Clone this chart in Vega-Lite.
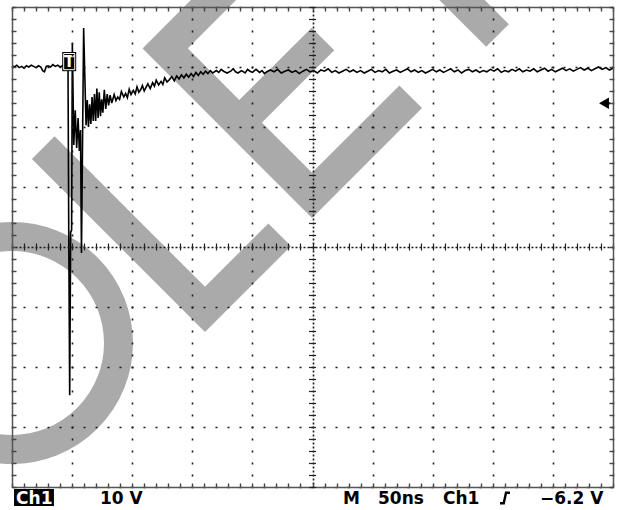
{
  "$schema": "https://vega.github.io/schema/vega-lite/v6.json",
  "width": 601,
  "height": 480,
  "autosize": {"type": "none"},
  "padding": {"left": 12, "top": 7, "right": 4, "bottom": 23},
  "background": "white",
  "config": {"view": {"stroke": null}, "text": {"font": "DejaVu Sans"}},
  "datasets": {
    "watermark": [
      {"stroke": "L", "ord": 1, "t": 26.0, "v": 16.56},
      {"stroke": "L", "ord": 2, "t": 160.57, "v": -10.4},
      {"stroke": "L", "ord": 3, "t": 222.7, "v": 2.05},
      {"stroke": "E", "ord": 1, "t": 209.4, "v": 49.54},
      {"stroke": "E", "ord": 2, "t": 127.4, "v": 33.1},
      {"stroke": "E", "ord": 3, "t": 249.6, "v": 8.61},
      {"stroke": "E", "ord": 4, "t": 331.7, "v": 25.05},
      {"stroke": "Em", "ord": 1, "t": 189.1, "v": 20.72},
      {"stroke": "Em", "ord": 2, "t": 258.7, "v": 34.67},
      {"stroke": "T", "ord": 1, "t": 261.6, "v": 63.75},
      {"stroke": "T", "ord": 2, "t": 403.9, "v": 35.25}
    ],
    "ring": [{"t": 0, "v": -16}],
    "trace": [
      {"t": 0, "v": 30.2}, {"t": 2, "v": 30.0}, {"t": 4, "v": 30.3}, {"t": 6, "v": 29.9},
      {"t": 8, "v": 30.1}, {"t": 10, "v": 29.8}, {"t": 12, "v": 30.2}, {"t": 14, "v": 30.0},
      {"t": 16, "v": 30.3}, {"t": 18, "v": 30.1}, {"t": 20, "v": 29.9}, {"t": 22, "v": 30.2},
      {"t": 24, "v": 30.0}, {"t": 25.5, "v": 29.4}, {"t": 27, "v": 29.2}, {"t": 28.5, "v": 30.1},
      {"t": 30, "v": 30.2}, {"t": 32, "v": 30.0}, {"t": 34, "v": 30.4}, {"t": 36, "v": 30.1},
      {"t": 38, "v": 30.3}, {"t": 40, "v": 30.0}, {"t": 42, "v": 30.2}, {"t": 44, "v": 30.4},
      {"t": 46, "v": 30.0}, {"t": 46.6, "v": 29.8}, {"t": 47.2, "v": 2.8}, {"t": 48.0, "v": -24.7},
      {"t": 48.8, "v": 2.5}, {"t": 49.6, "v": 2.8}, {"t": 50.2, "v": 34.0}, {"t": 51.4, "v": 17.0},
      {"t": 52.6, "v": 22.8}, {"t": 53.8, "v": 16.5}, {"t": 55.0, "v": 21.5}, {"t": 56.0, "v": 16.0},
      {"t": 57.0, "v": 19.5}, {"t": 57.8, "v": -1.0}, {"t": 59.6, "v": 36.5}, {"t": 60.4, "v": 30.0},
      {"t": 61.6, "v": 20.3}, {"t": 62.6, "v": 24.5}, {"t": 63.6, "v": 20.0}, {"t": 64.6, "v": 23.8},
      {"t": 65.6, "v": 20.5}, {"t": 66.6, "v": 25.0}, {"t": 67.6, "v": 21.0}, {"t": 68.6, "v": 25.5},
      {"t": 69.6, "v": 21.0}, {"t": 70.6, "v": 26.4}, {"t": 71.6, "v": 21.5}, {"t": 72.6, "v": 25.8},
      {"t": 73.6, "v": 21.8}, {"t": 74.6, "v": 24.6}, {"t": 75.6, "v": 22.4}, {"t": 76.8, "v": 26.2},
      {"t": 78.0, "v": 23.0}, {"t": 79.2, "v": 25.5}, {"t": 80.4, "v": 23.6}, {"t": 81.6, "v": 25.3},
      {"t": 83, "v": 24.0}, {"t": 85, "v": 25.4}, {"t": 86.5, "v": 24.4}, {"t": 88, "v": 25.0},
      {"t": 89.5, "v": 24.6}, {"t": 91, "v": 25.9}, {"t": 93, "v": 25.0}, {"t": 94.5, "v": 25.6},
      {"t": 96, "v": 24.9}, {"t": 97.5, "v": 26.3}, {"t": 99, "v": 25.4}, {"t": 101, "v": 26.1},
      {"t": 102.5, "v": 25.5}, {"t": 104, "v": 26.7}, {"t": 105.5, "v": 25.8}, {"t": 107, "v": 26.2},
      {"t": 108.5, "v": 26.9}, {"t": 110, "v": 26.0}, {"t": 111.5, "v": 26.6}, {"t": 113, "v": 27.2},
      {"t": 115, "v": 26.4}, {"t": 117, "v": 27.4}, {"t": 118.5, "v": 26.8}, {"t": 120, "v": 27.8},
      {"t": 122, "v": 27.0}, {"t": 124, "v": 27.6}, {"t": 125.5, "v": 27.1}, {"t": 127, "v": 28.2},
      {"t": 129, "v": 27.5}, {"t": 131, "v": 27.9}, {"t": 133, "v": 28.4}, {"t": 135, "v": 27.7},
      {"t": 137, "v": 28.5}, {"t": 139, "v": 28.0}, {"t": 141, "v": 28.7}, {"t": 143, "v": 28.2},
      {"t": 145, "v": 28.8}, {"t": 147, "v": 28.3}, {"t": 149, "v": 28.9}, {"t": 151, "v": 28.4},
      {"t": 153, "v": 29.1}, {"t": 155, "v": 28.6}, {"t": 157, "v": 29.2}, {"t": 159, "v": 28.8},
      {"t": 161, "v": 29.3}, {"t": 163, "v": 28.9}, {"t": 165, "v": 29.4}, {"t": 167, "v": 29.0},
      {"t": 170, "v": 29.4}, {"t": 172, "v": 29.1}, {"t": 174, "v": 29.6}, {"t": 176, "v": 29.3},
      {"t": 179, "v": 29.0}, {"t": 182, "v": 29.3}, {"t": 184, "v": 29.7}, {"t": 186, "v": 29.2},
      {"t": 188, "v": 29.0}, {"t": 191, "v": 29.4}, {"t": 194, "v": 29.0}, {"t": 196, "v": 29.6},
      {"t": 198, "v": 29.3}, {"t": 200, "v": 29.1}, {"t": 203, "v": 29.6}, {"t": 206, "v": 29.1},
      {"t": 208, "v": 29.4}, {"t": 210, "v": 28.9}, {"t": 212, "v": 29.2}, {"t": 215, "v": 29.5},
      {"t": 218, "v": 29.2}, {"t": 221, "v": 29.6}, {"t": 224, "v": 29.0}, {"t": 227, "v": 29.3},
      {"t": 230, "v": 29.5}, {"t": 233, "v": 29.1}, {"t": 236, "v": 29.4}, {"t": 239, "v": 28.9},
      {"t": 242, "v": 29.3}, {"t": 245, "v": 29.6}, {"t": 248, "v": 29.2}, {"t": 251, "v": 29.4},
      {"t": 254, "v": 29.0}, {"t": 257, "v": 29.5}, {"t": 260, "v": 29.3}, {"t": 263, "v": 29.7},
      {"t": 266, "v": 29.1}, {"t": 269, "v": 29.4}, {"t": 272, "v": 29.0}, {"t": 275, "v": 29.3},
      {"t": 278, "v": 29.6}, {"t": 281, "v": 29.2}, {"t": 284, "v": 29.5}, {"t": 287, "v": 29.1},
      {"t": 290, "v": 29.4}, {"t": 293, "v": 29.0}, {"t": 296, "v": 29.3}, {"t": 299, "v": 29.6},
      {"t": 302, "v": 29.1}, {"t": 305, "v": 29.4}, {"t": 308, "v": 29.2}, {"t": 311, "v": 29.6},
      {"t": 314, "v": 29.0}, {"t": 317, "v": 29.3}, {"t": 320, "v": 29.5}, {"t": 323, "v": 29.1},
      {"t": 326, "v": 29.4}, {"t": 329, "v": 29.7}, {"t": 332, "v": 29.2}, {"t": 335, "v": 29.5},
      {"t": 338, "v": 29.1}, {"t": 341, "v": 29.4}, {"t": 344, "v": 29.0}, {"t": 347, "v": 29.3},
      {"t": 350, "v": 29.6}, {"t": 353, "v": 29.2}, {"t": 356, "v": 29.5}, {"t": 359, "v": 29.1},
      {"t": 362, "v": 29.4}, {"t": 365, "v": 29.7}, {"t": 368, "v": 29.2}, {"t": 371, "v": 29.5},
      {"t": 374, "v": 29.0}, {"t": 377, "v": 29.4}, {"t": 380, "v": 29.6}, {"t": 383, "v": 29.2},
      {"t": 386, "v": 29.5}, {"t": 389, "v": 29.1}, {"t": 392, "v": 29.4}, {"t": 395, "v": 29.2},
      {"t": 398, "v": 29.6}, {"t": 401, "v": 29.3}, {"t": 404, "v": 29.7}, {"t": 407, "v": 29.1},
      {"t": 410, "v": 29.4}, {"t": 413, "v": 29.2}, {"t": 416, "v": 29.6}, {"t": 419, "v": 29.3},
      {"t": 422, "v": 29.7}, {"t": 425, "v": 29.2}, {"t": 428, "v": 29.5}, {"t": 431, "v": 29.3},
      {"t": 434, "v": 29.7}, {"t": 437, "v": 29.2}, {"t": 440, "v": 29.5}, {"t": 443, "v": 29.8},
      {"t": 446, "v": 29.3}, {"t": 449, "v": 29.6}, {"t": 452, "v": 29.2}, {"t": 455, "v": 29.5},
      {"t": 458, "v": 29.8}, {"t": 461, "v": 29.4}, {"t": 464, "v": 29.7}, {"t": 467, "v": 29.3},
      {"t": 470, "v": 29.6}, {"t": 473, "v": 29.9}, {"t": 476, "v": 29.5}, {"t": 479, "v": 29.8},
      {"t": 482, "v": 29.4}, {"t": 485, "v": 29.7}, {"t": 488, "v": 30.0}, {"t": 491, "v": 29.6},
      {"t": 494, "v": 29.9}, {"t": 497, "v": 29.5}, {"t": 500, "v": 29.8}
    ],
    "tbox": [{"t": 41.8, "t2": 53.4, "v": 29.3, "v2": 32.5}],
    "tboxin": [{"t": 43.0, "t2": 52.2, "v": 29.55, "v2": 32.25}],
    "tlabel": [{"t": 47.6, "v": 30.85, "label": "T"}],
    "arrow": [{"t": 492.5, "v": 23.95}],
    "arrowstem": [{"t": 494.0, "t2": 497.8, "v": 23.95}],
    "slope": [
      {"ord": 1, "t": 406.0, "v": -42.72},
      {"ord": 2, "t": 409.1, "v": -42.72},
      {"ord": 3, "t": 411.0, "v": -40.95},
      {"ord": 4, "t": 414.3, "v": -40.95}
    ],
    "chbox": [{"t": 1.7, "t2": 34.9, "v": -40.33, "v2": -43.17}],
    "whitetext": [{"t": 3.4, "v": -42.83, "label": "Ch1"}],
    "blacktext": [
      {"t": 73.2, "v": -42.83, "label": "10 V"},
      {"t": 275.4, "v": -42.83, "label": "M"},
      {"t": 304.5, "v": -42.83, "label": "50ns"},
      {"t": 358.6, "v": -42.83, "label": "Ch1"},
      {"t": 439.3, "v": -42.83, "label": "−6.2 V"}
    ]
  },
  "layer": [
    {
      "data": {"name": "watermark"},
      "mark": {"type": "line", "stroke": "#aaaaaa", "strokeWidth": 32, "strokeJoin": "miter", "strokeCap": "butt"},
      "encoding": {
        "x": {
          "field": "t", "type": "quantitative",
          "scale": {"domain": [0, 500], "nice": false, "zero": false},
          "axis": {
            "orient": "bottom", "title": null, "labels": false,
            "values": [0,10,20,30,40,50,60,70,80,90,100,110,120,130,140,150,160,170,180,190,200,210,220,230,240,250,260,270,280,290,300,310,320,330,340,350,360,370,380,390,400,410,420,430,440,450,460,470,480,490,500],
            "grid": true, "gridColor": "#1a1a1a", "gridWidth": 1.6,
            "gridDash": {"condition": {"test": "datum.value === 250", "value": [2, 2]}, "value": [2, 10]},
            "gridDashOffset": 1,
            "gridOpacity": {"condition": {"test": "datum.value % 50 === 0", "value": 1}, "value": 0},
            "ticks": true, "tickSize": -4, "tickColor": "#444444", "tickWidth": 1.4,
            "domain": true, "domainColor": "#555555", "domainWidth": 1.5, "zindex": 1
          }
        },
        "y": {
          "field": "v", "type": "quantitative",
          "scale": {"domain": [-40, 40], "nice": false, "zero": false},
          "axis": {
            "orient": "left", "title": null, "labels": false,
            "values": [-40,-38,-36,-34,-32,-30,-28,-26,-24,-22,-20,-18,-16,-14,-12,-10,-8,-6,-4,-2,0,2,4,6,8,10,12,14,16,18,20,22,24,26,28,30,32,34,36,38,40],
            "grid": true, "gridColor": "#1a1a1a", "gridWidth": 1.6,
            "gridDash": {"condition": {"test": "datum.value === 0", "value": [2, 2]}, "value": [2, 10]},
            "gridDashOffset": 1,
            "gridOpacity": {"condition": {"test": "datum.value % 10 === 0", "value": 1}, "value": 0},
            "ticks": true, "tickSize": -4, "tickColor": "#444444", "tickWidth": 1.4,
            "domain": true, "domainColor": "#555555", "domainWidth": 1.5, "zindex": 1
          }
        },
        "detail": {"field": "stroke"},
        "order": {"field": "ord", "type": "quantitative"}
      }
    },
    {
      "data": {"name": "ring"},
      "mark": {"type": "point", "shape": "circle", "filled": false, "color": "#aaaaaa", "opacity": 1, "size": 45369, "strokeWidth": 29},
      "encoding": {
        "x": {
          "field": "t", "type": "quantitative",
          "scale": {"domain": [0, 500], "nice": false, "zero": false},
          "axis": {
            "orient": "top", "title": null, "labels": false, "grid": false,
            "values": [0,10,20,30,40,50,60,70,80,90,100,110,120,130,140,150,160,170,180,190,200,210,220,230,240,250,260,270,280,290,300,310,320,330,340,350,360,370,380,390,400,410,420,430,440,450,460,470,480,490,500],
            "ticks": true, "tickSize": -4, "tickColor": "#444444", "tickWidth": 1.4,
            "domain": true, "domainColor": "#555555", "domainWidth": 1.5, "zindex": 1
          }
        },
        "y": {
          "field": "v", "type": "quantitative",
          "scale": {"domain": [-40, 40], "nice": false, "zero": false},
          "axis": {
            "orient": "right", "title": null, "labels": false, "grid": false,
            "values": [-40,-38,-36,-34,-32,-30,-28,-26,-24,-22,-20,-18,-16,-14,-12,-10,-8,-6,-4,-2,0,2,4,6,8,10,12,14,16,18,20,22,24,26,28,30,32,34,36,38,40],
            "ticks": true, "tickSize": -4, "tickColor": "#444444", "tickWidth": 1.4,
            "domain": true, "domainColor": "#555555", "domainWidth": 1.5, "zindex": 1
          }
        }
      }
    },
    {
      "data": {"name": "trace"},
      "mark": {"type": "line", "stroke": "#000000", "strokeWidth": 1.6},
      "encoding": {
        "x": {
          "field": "t", "type": "quantitative",
          "scale": {"domain": [0, 500], "nice": false, "zero": false},
          "axis": {
            "orient": "bottom", "offset": -244, "title": null, "labels": false, "grid": false, "domain": false,
            "values": [0,10,20,30,40,50,60,70,80,90,100,110,120,130,140,150,160,170,180,190,200,210,220,230,240,250,260,270,280,290,300,310,320,330,340,350,360,370,380,390,400,410,420,430,440,450,460,470,480,490,500],
            "ticks": true, "tickSize": 7, "tickColor": "#222222", "tickWidth": 1.2, "zindex": 1
          }
        },
        "y": {
          "field": "v", "type": "quantitative",
          "scale": {"domain": [-40, 40], "nice": false, "zero": false},
          "axis": {
            "orient": "left", "offset": -303.5, "title": null, "labels": false, "grid": false, "domain": false,
            "values": [-40,-38,-36,-34,-32,-30,-28,-26,-24,-22,-20,-18,-16,-14,-12,-10,-8,-6,-4,-2,0,2,4,6,8,10,12,14,16,18,20,22,24,26,28,30,32,34,36,38,40],
            "ticks": true, "tickSize": 7, "tickColor": "#222222", "tickWidth": 1.2, "zindex": 1
          }
        }
      }
    },
    {
      "data": {"name": "tbox"},
      "mark": {"type": "rect", "fill": "#000000"},
      "encoding": {
        "x": {"field": "t", "type": "quantitative", "axis": null},
        "x2": {"field": "t2"},
        "y": {"field": "v", "type": "quantitative", "axis": null},
        "y2": {"field": "v2"}
      }
    },
    {
      "data": {"name": "tboxin"},
      "mark": {"type": "rect", "fill": "#000000", "stroke": "#ffffff", "strokeWidth": 1},
      "encoding": {
        "x": {"field": "t", "type": "quantitative", "axis": null},
        "x2": {"field": "t2"},
        "y": {"field": "v", "type": "quantitative", "axis": null},
        "y2": {"field": "v2"}
      }
    },
    {
      "data": {"name": "tlabel"},
      "mark": {"type": "text", "color": "#ffffff", "fontSize": 15, "fontWeight": "bold", "align": "center", "baseline": "middle"},
      "encoding": {
        "x": {"field": "t", "type": "quantitative", "axis": null},
        "y": {"field": "v", "type": "quantitative", "axis": null},
        "text": {"field": "label"}
      }
    },
    {
      "data": {"name": "arrow"},
      "mark": {"type": "point", "shape": "triangle-left", "filled": true, "color": "#000000", "opacity": 1, "size": 130},
      "encoding": {
        "x": {"field": "t", "type": "quantitative", "axis": null},
        "y": {"field": "v", "type": "quantitative", "axis": null}
      }
    },
    {
      "data": {"name": "arrowstem"},
      "mark": {"type": "rule", "color": "#000000", "strokeWidth": 2},
      "encoding": {
        "x": {"field": "t", "type": "quantitative", "axis": null},
        "x2": {"field": "t2"},
        "y": {"field": "v", "type": "quantitative", "axis": null}
      }
    },
    {
      "data": {"name": "slope"},
      "mark": {"type": "line", "stroke": "#000000", "strokeWidth": 2.4},
      "encoding": {
        "x": {"field": "t", "type": "quantitative", "axis": null},
        "y": {"field": "v", "type": "quantitative", "axis": null},
        "order": {"field": "ord", "type": "quantitative"}
      }
    },
    {
      "data": {"name": "chbox"},
      "mark": {"type": "rect", "fill": "#000000"},
      "encoding": {
        "x": {"field": "t", "type": "quantitative", "axis": null},
        "x2": {"field": "t2"},
        "y": {"field": "v", "type": "quantitative", "axis": null},
        "y2": {"field": "v2"}
      }
    },
    {
      "data": {"name": "whitetext"},
      "mark": {"type": "text", "color": "#ffffff", "fontSize": 17, "fontWeight": "bold", "align": "left", "baseline": "alphabetic", "font": "DejaVu Sans"},
      "encoding": {
        "x": {"field": "t", "type": "quantitative", "axis": null},
        "y": {"field": "v", "type": "quantitative", "axis": null},
        "text": {"field": "label"}
      }
    },
    {
      "data": {"name": "blacktext"},
      "mark": {"type": "text", "color": "#000000", "fontSize": 17, "fontWeight": "bold", "align": "left", "baseline": "alphabetic", "font": "DejaVu Sans"},
      "encoding": {
        "x": {"field": "t", "type": "quantitative", "axis": null},
        "y": {"field": "v", "type": "quantitative", "axis": null},
        "text": {"field": "label"}
      }
    }
  ],
  "resolve": {"axis": {"x": "independent", "y": "independent"}}
}
